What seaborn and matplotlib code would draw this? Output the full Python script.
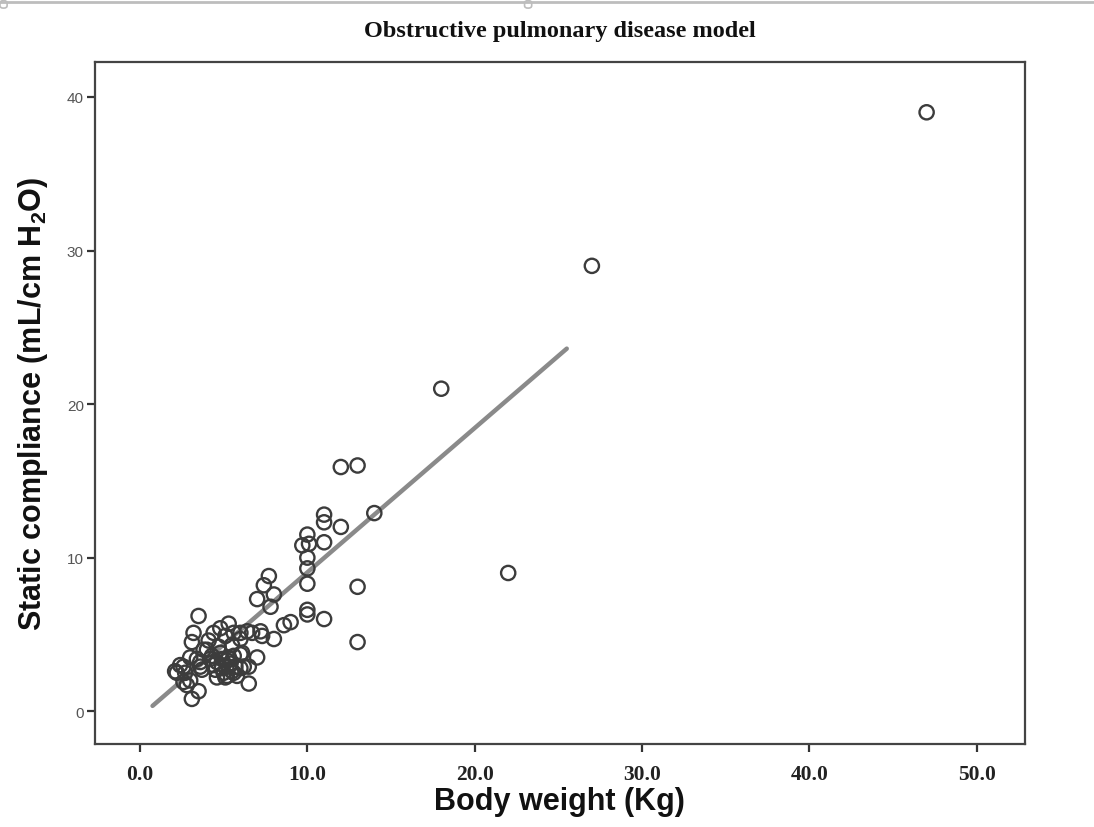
import matplotlib
matplotlib.use("Agg")
import matplotlib.pyplot as plt
import seaborn as sns
import numpy as np
import pandas as pd
from matplotlib.lines import Line2D
from matplotlib.patches import FancyBboxPatch

# Body weight (kg) and static compliance (mL/cm H2O) per animal
body_weight = [
    47.0, 27.0, 18.0, 22.0, 14.0, 12.0, 13.0, 13.0, 13.0,
    11.0, 11.0, 12.0, 11.0, 11.0,
    10.0, 9.7, 10.1, 10.0, 10.0, 10.0, 10.0, 10.0,
    9.0, 8.6,
    7.7, 7.4, 8.0, 7.0, 7.8, 8.0, 7.2, 7.3, 7.0,
    6.4, 6.7, 6.5, 6.5, 6.0, 6.1, 6.0, 6.2, 6.0, 6.0,
    5.3, 5.6, 5.5, 5.6, 5.7, 5.6, 5.2, 5.3, 5.4, 5.5, 5.8, 5.1, 5.1, 5.0, 5.2, 5.3,
    4.8, 4.4, 4.1, 4.6, 4.3, 4.8, 4.6, 4.9, 4.5, 4.2, 4.0, 4.7, 4.4, 4.9,
    3.5, 3.2, 3.1, 3.8, 3.0, 3.4, 3.6, 3.7, 3.1, 3.5, 3.6,
    2.8, 2.6, 2.2, 2.1, 2.7, 2.4, 2.6, 3.0,
]
static_compliance = [
    39.0, 29.0, 21.0, 9.0, 12.9, 15.9, 16.0, 8.1, 4.5,
    12.8, 12.3, 12.0, 11.0, 6.0,
    11.5, 10.8, 10.9, 10.0, 9.3, 8.3, 6.6, 6.3,
    5.8, 5.6,
    8.8, 8.2, 7.6, 7.3, 6.8, 4.7, 5.2, 4.9, 3.5,
    5.2, 5.1, 2.9, 1.8, 3.7, 3.8, 2.8, 2.9, 4.7, 5.1,
    5.7, 5.1, 4.3, 3.6, 2.9, 2.5, 2.3, 3.5, 3.1, 2.6, 2.3, 4.9, 2.2, 2.5, 3.3, 2.9,
    5.4, 5.1, 4.6, 2.2, 3.6, 3.8, 3.2, 2.8, 2.7, 3.4, 4.0, 4.2, 3.0, 3.4,
    6.2, 5.1, 4.5, 4.0, 3.5, 3.4, 2.9, 2.7, 0.8, 1.3, 3.2,
    1.7, 1.9, 2.5, 2.6, 2.5, 3.0, 2.9, 2.0,
]

# Linear fit line drawn over its own x range
fit_x = [0.75, 25.5]
fit_slope = 0.94
fit_intercept = -0.36

x_ticks = [0, 10, 20, 30, 40, 50]
y_ticks = [0, 10, 20, 30, 40]

df = pd.DataFrame({"weight": body_weight, "compliance": static_compliance})
fit_df = pd.DataFrame({"x": fit_x})
fit_df["y"] = fit_intercept + fit_slope * fit_df["x"]

sns.set_theme(style="white")
plt.rcParams["font.family"] = ["Liberation Sans", "DejaVu Sans"]
plt.rcParams["mathtext.fontset"] = "custom"
plt.rcParams["mathtext.rm"] = "Liberation Sans:bold"
plt.rcParams["mathtext.bf"] = "Liberation Sans:bold"

fig = plt.figure(figsize=(10.94, 8.28), dpi=100)
ax = fig.add_axes([0.0868, 0.100, 0.850, 0.824])

sns.lineplot(data=fit_df, x="x", y="y", ax=ax, color="#8a8a8a",
             linewidth=3.2, zorder=1)
sns.scatterplot(data=df, x="weight", y="compliance", ax=ax, s=105,
                marker="o", facecolors="none", edgecolor="#3c3c3c",
                linewidth=1.7, zorder=2)

ax.set_xlim(-2.69, 52.87)
ax.set_ylim(-2.15, 42.28)
ax.set_xticks(x_ticks)
ax.set_xticklabels([f"{v:.1f}" for v in x_ticks], family="Liberation Serif",
                   fontweight="bold", fontsize=15.5, color="#222222")
ax.set_yticks(y_ticks)
ax.set_yticklabels([str(v) for v in y_ticks], fontsize=11, color="#555555")

ax.tick_params(axis="both", which="major", direction="out", length=6,
               width=1.6, color="#333333", left=True, bottom=True)
ax.tick_params(axis="x", pad=8)
ax.tick_params(axis="y", pad=2)

for spine in ax.spines.values():
    spine.set_visible(True)
    spine.set_color("#444444")
    spine.set_linewidth(1.6)

ax.set_xlabel("Body weight (Kg)", fontsize=22, fontweight="bold",
              color="#111111", labelpad=2)
ax.set_ylabel("Static compliance (mL/cm H$_2$O)", fontsize=22,
              fontweight="bold", color="#111111", labelpad=12)
ax.set_title("Obstructive pulmonary disease model", family="Liberation Serif",
             fontweight="bold", fontsize=17.5, color="#111111", pad=19)

# thin frame line along the top edge of the figure, with its handles
fig.add_artist(Line2D([0.0, 1.0], [0.9965, 0.9965], transform=fig.transFigure,
                      color="#bdbdbd", linewidth=2.0))
for hx in (0.0, 0.4795):
    fig.add_artist(FancyBboxPatch((hx, 0.989), 0.0065, 0.009,
                                  boxstyle="round,pad=0.0,rounding_size=0.003",
                                  transform=fig.transFigure, facecolor="white",
                                  edgecolor="#bdbdbd", linewidth=1.2))

fig.savefig("out.png", dpi=100)
